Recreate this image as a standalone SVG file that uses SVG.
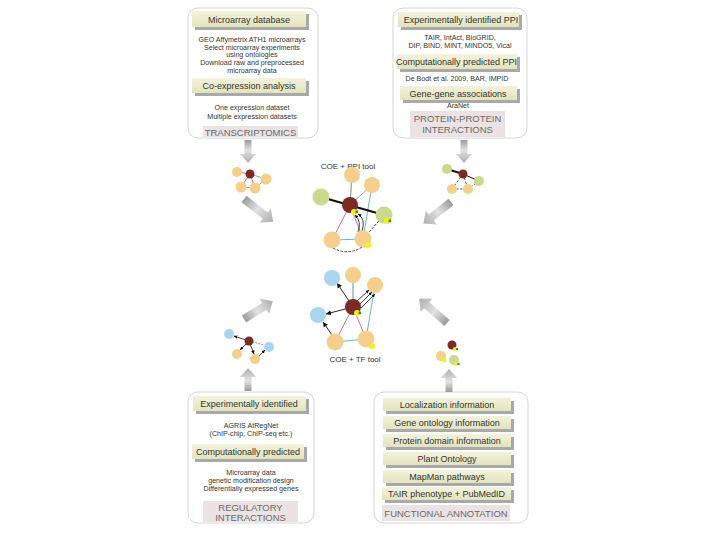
<svg xmlns="http://www.w3.org/2000/svg" width="720" height="540" viewBox="0 0 720 540">
<style>
.panel{fill:#fff;stroke:#d6d6d6;stroke-width:1}
.hb{fill:url(#hg)}
.hs{fill:#a9a9a9}
.ht{font-family:"Liberation Sans",Arial,sans-serif;font-size:9px;fill:#333;text-anchor:middle}
.bt{font-family:"Liberation Sans",Arial,sans-serif;font-size:7.1px;fill:#333;text-anchor:middle}
.ban{fill:#ebe3e3}
.bant{font-family:"Liberation Sans",Arial,sans-serif;font-size:9.5px;fill:#6a6a6a;text-anchor:middle}
.tt{font-family:"Liberation Sans",Arial,sans-serif;font-size:8px;fill:#333;text-anchor:middle}
.or{fill:#f6cf8c}
.mr{fill:#7b2a24}
.gr{fill:#c9d98e}
.bl{fill:#a9d6ee}
.ye{fill:#f2f01e}
.gs{fill:#3a8a2a}
.arr{fill:url(#ag)}
.k{stroke:#111;fill:none}
.pk{stroke:#c0527e;fill:none}
.bu{stroke:#3fa2c4;fill:none}
.gy{stroke:#8f9faa;fill:none}
.dk{stroke:#111;fill:none;stroke-dasharray:2.5 1.5}
</style>
<defs>
<linearGradient id="hg" x1="0" y1="0" x2="0" y2="1">
<stop offset="0" stop-color="#f3f3de"/>
<stop offset="1" stop-color="#e3e3bd"/>
</linearGradient>
<linearGradient id="ag" x1="0" y1="0" x2="1" y2="0">
<stop offset="0" stop-color="#9a9a9a"/>
<stop offset="0.45" stop-color="#e2e2e2"/>
<stop offset="1" stop-color="#aeaeae"/>
</linearGradient>
<marker id="ah" markerWidth="6" markerHeight="6" refX="5" refY="3" orient="auto" markerUnits="userSpaceOnUse">
<path d="M0,0.5 L5,3 L0,5.5 Z" fill="#111"/>
</marker>
<marker id="ahs" markerWidth="4" markerHeight="4" refX="3.5" refY="2" orient="auto" markerUnits="userSpaceOnUse">
<path d="M0,0.3 L3.5,2 L0,3.7 Z" fill="#111"/>
</marker>
</defs>

<!-- TRANSCRIPTOMICS panel -->
<g id="transcriptomics">
<rect class="panel" x="188" y="8" width="130" height="130" rx="10"/>
<rect class="hs" x="195" y="14" width="114" height="16"/>
<rect class="hb" x="192" y="11" width="114" height="16"/>
<text class="ht" x="249" y="22.5">Microarray database</text>
<text class="bt" x="252" y="41.5">GEO Affymetrix ATH1 microarrays</text>
<text class="bt" x="252" y="49.5">Select microarray experiments</text>
<text class="bt" x="252" y="57">using ontologies</text>
<text class="bt" x="252" y="65">Download raw and preprocessed</text>
<text class="bt" x="252" y="72.5">microarray data</text>
<rect class="hs" x="195" y="81" width="114" height="15"/>
<rect class="hb" x="192" y="78" width="114" height="15"/>
<text class="ht" x="249" y="89">Co-expression analysis</text>
<text class="bt" x="252" y="110">One expression dataset</text>
<text class="bt" x="252" y="119">Multiple expression datasets</text>
<rect class="ban" x="203" y="126" width="95" height="11"/>
<text class="bant" x="250.5" y="135.5">TRANSCRIPTOMICS</text>
</g>

<!-- PPI panel -->
<g id="ppi">
<rect class="panel" x="393" y="8" width="134" height="130" rx="10"/>
<rect class="hs" x="401" y="15" width="121" height="15"/>
<rect class="hb" x="398" y="12" width="121" height="15"/>
<text class="ht" x="461" y="23">Experimentally identified PPI</text>
<text class="bt" x="460" y="39.5">TAIR, IntAct, BioGRID,</text>
<text class="bt" x="460" y="48">DIP, BIND, MINT, MINDO5, Vical</text>
<rect class="hs" x="400" y="57" width="120" height="15"/>
<rect class="hb" x="397" y="54" width="120" height="15"/>
<text class="ht" x="456.5" y="65" font-size="8.7">Computationally predicted PPI</text>
<text class="bt" x="457" y="80.5">De Bodt et al. 2009, BAR, IMPID</text>
<rect class="hs" x="403" y="89" width="117" height="14"/>
<rect class="hb" x="400" y="86" width="117" height="14"/>
<text class="ht" x="458" y="96.5">Gene-gene associations</text>
<text class="bt" x="458" y="108">AraNet</text>
<rect class="ban" x="410" y="111" width="95" height="26"/>
<text class="bant" x="457.5" y="121.5">PROTEIN-PROTEIN</text>
<text class="bant" x="457.5" y="133">INTERACTIONS</text>
</g>

<!-- Regulatory panel -->
<g id="regulatory">
<rect class="panel" x="188" y="392" width="126" height="131" rx="10"/>
<rect class="hs" x="196" y="399" width="113" height="15"/>
<rect class="hb" x="193" y="396" width="113" height="15"/>
<text class="ht" x="249" y="407">Experimentally identified</text>
<text class="bt" x="251" y="428">AGRIS AtRegNet</text>
<text class="bt" x="251" y="436">(ChIP-chip, ChIP-seq etc.)</text>
<rect class="hs" x="195" y="447" width="112" height="15"/>
<rect class="hb" x="192" y="444" width="112" height="15"/>
<text class="ht" x="248" y="455">Computationally predicted</text>
<text class="bt" x="251" y="475">Microarray data</text>
<text class="bt" x="251" y="482.5">genetic modification design</text>
<text class="bt" x="251" y="490.5">Differentially expressed genes</text>
<rect class="ban" x="203" y="501" width="95" height="21"/>
<text class="bant" x="250.5" y="510.5">REGULATORY</text>
<text class="bant" x="250.5" y="520.5">INTERACTIONS</text>
</g>

<!-- Functional annotation panel -->
<g id="functional">
<rect class="panel" x="374" y="392" width="154" height="131" rx="10"/>
<rect class="hs" x="386" y="401" width="128" height="13"/>
<rect class="hb" x="383" y="398" width="128" height="13"/>
<text class="ht" x="447" y="407.5">Localization information</text>
<rect class="hs" x="386" y="419" width="128" height="13"/>
<rect class="hb" x="383" y="416" width="128" height="13"/>
<text class="ht" x="447" y="425.5">Gene ontology information</text>
<rect class="hs" x="386" y="437" width="128" height="13"/>
<rect class="hb" x="383" y="434" width="128" height="13"/>
<text class="ht" x="447" y="443.5">Protein domain information</text>
<rect class="hs" x="386" y="455" width="128" height="13"/>
<rect class="hb" x="383" y="452" width="128" height="13"/>
<text class="ht" x="447" y="461.5">Plant Ontology</text>
<rect class="hs" x="386" y="473" width="128" height="13"/>
<rect class="hb" x="383" y="470" width="128" height="13"/>
<text class="ht" x="447" y="479.5">MapMan pathways</text>
<rect class="hs" x="385" y="490" width="129" height="13"/>
<rect class="hb" x="382" y="487" width="129" height="13"/>
<text class="ht" x="446.5" y="496.5">TAIR phenotype + PubMedID</text>
<rect class="ban" x="382" y="505" width="128" height="16"/>
<text class="bant" x="446" y="517">FUNCTIONAL ANNOTATION</text>
</g>

<!-- Big grey arrows -->
<g id="connectors">
<path class="arr" transform="translate(248,140) rotate(90)" d="M0,-3.5 L14,-3.5 L14,-8 L23,0 L14,8 L14,3.5 L0,3.5 Z"/>
<path class="arr" transform="translate(464,140) rotate(90)" d="M0,-3.5 L14,-3.5 L14,-8 L23,0 L14,8 L14,3.5 L0,3.5 Z"/>
<path class="arr" transform="translate(248,391) rotate(-90)" d="M0,-3.5 L14,-3.5 L14,-8 L23,0 L14,8 L14,3.5 L0,3.5 Z"/>
<path class="arr" transform="translate(449,392) rotate(-90)" d="M0,-3.5 L14,-3.5 L14,-8 L23,0 L14,8 L14,3.5 L0,3.5 Z"/>
<path class="arr" transform="translate(244,199) rotate(38)" d="M0,-4 L27,-4 L27,-9 L37,0 L27,9 L27,4 L0,4 Z"/>
<path class="arr" transform="translate(451,202) rotate(142)" d="M0,-4 L25,-4 L25,-9 L35,0 L25,9 L25,4 L0,4 Z"/>
<path class="arr" transform="translate(244,319) rotate(-32)" d="M0,-4 L24,-4 L24,-9 L34,0 L24,9 L24,4 L0,4 Z"/>
<path class="arr" transform="translate(447,323) rotate(-139)" d="M0,-4 L27,-4 L27,-9 L37,0 L27,9 L27,4 L0,4 Z"/>
</g>

<!-- small COE network -->
<g id="net-coe">
<g stroke-width="0.8">
<line class="pk" x1="250" y1="174" x2="237" y2="172"/>
<line class="pk" x1="250" y1="174" x2="241" y2="187"/>
<line class="pk" x1="250" y1="174" x2="255" y2="188"/>
<line class="bu" x1="250" y1="174" x2="266" y2="179"/>
<line class="bu" x1="266" y1="179" x2="255" y2="188"/>
<line class="bu" x1="241" y1="187" x2="255" y2="188"/>
</g>
<circle class="or" cx="237" cy="172" r="5"/>
<circle class="or" cx="266" cy="179" r="5.5"/>
<circle class="or" cx="241" cy="187" r="5.5"/>
<circle class="or" cx="255" cy="188" r="5.5"/>
<circle class="mr" cx="250" cy="174" r="4.5"/>
</g>

<!-- small PPI network -->
<g id="net-ppi">
<line class="k" x1="447" y1="169" x2="463" y2="174" stroke-width="2.2"/>
<line class="k" x1="463" y1="174" x2="479" y2="181" stroke-width="1"/>
<line class="dk" x1="463" y1="174" x2="452" y2="189" stroke-width="0.7"/>
<line class="dk" x1="463" y1="174" x2="468" y2="189" stroke-width="0.7"/>
<line class="dk" x1="452" y1="189" x2="468" y2="189" stroke-width="0.7"/>
<line class="dk" x1="479" y1="181" x2="468" y2="189" stroke-width="0.7"/>
<circle class="gr" cx="447" cy="169" r="5"/>
<circle class="gr" cx="479" cy="181" r="5"/>
<circle class="or" cx="452" cy="189" r="5"/>
<circle class="or" cx="468" cy="189" r="5"/>
<circle class="mr" cx="463" cy="174" r="4.5"/>
</g>

<!-- small TF network -->
<g id="net-tf">
<g stroke-width="0.8">
<line class="k" x1="249" y1="341" x2="234" y2="336" marker-end="url(#ahs)"/>
<line class="k" x1="249" y1="341" x2="240" y2="350" marker-end="url(#ahs)"/>
<line class="k" x1="249" y1="341" x2="254" y2="354" marker-end="url(#ahs)"/>
<line class="pk" x1="249" y1="341" x2="264" y2="345" stroke-dasharray="2 1.2"/>
<line class="k" x1="259" y1="356" x2="265" y2="350" marker-end="url(#ahs)"/>
</g>
<circle class="bl" cx="229" cy="334" r="5"/>
<circle class="bl" cx="269" cy="347" r="5"/>
<circle class="or" cx="237" cy="354" r="5"/>
<circle class="or" cx="255" cy="359" r="5"/>
<circle class="mr" cx="249" cy="341" r="4.5"/>
</g>

<!-- small functional network -->
<g id="net-fa">
<circle class="mr" cx="452" cy="345" r="4.5"/>
<circle class="ye" cx="455" cy="349" r="2"/>
<rect class="gs" x="456" y="348" width="2" height="2"/>
<circle class="or" cx="441" cy="356" r="5"/>
<circle class="ye" cx="444" cy="360" r="2.2"/>
<circle class="gr" cx="454" cy="360" r="5"/>
<circle class="ye" cx="456" cy="364" r="2"/>
<rect class="gs" x="457.5" y="363" width="2" height="2"/>
</g>

<!-- COE + PPI tool network -->
<g id="net-coe-ppi">
<text class="tt" x="348" y="169">COE + PPI tool</text>
<line class="gy" x1="350" y1="205" x2="352" y2="175" stroke-width="1.2"/>
<line class="bu" x1="350" y1="205" x2="372" y2="185" stroke-width="0.8"/>
<line class="bu" x1="372" y1="185" x2="363" y2="239" stroke-width="0.8"/>
<line class="pk" x1="350" y1="205" x2="332" y2="240" stroke-width="0.8"/>
<line class="pk" x1="350" y1="205" x2="363" y2="239" stroke-width="0.8"/>
<line class="bu" x1="332" y1="240" x2="363" y2="239" stroke-width="0.8"/>
<path class="dk" d="M333,248 Q348,256 362,247" stroke-width="0.8"/>
<line class="dk" x1="384" y1="215" x2="363" y2="239" stroke-width="0.8"/>
<line class="k" x1="321" y1="197" x2="384" y2="215" stroke-width="2.3"/>
<path class="k" d="M362,231 Q366,219 358,214" stroke-width="0.8" marker-end="url(#ahs)"/>
<path class="k" d="M358,232 Q362,222 355,215" stroke-width="0.8" marker-end="url(#ahs)"/>
<circle class="or" cx="352" cy="175" r="8"/>
<circle class="or" cx="372" cy="185" r="8"/>
<circle class="gr" cx="321" cy="197" r="8.5"/>
<circle class="gr" cx="384" cy="215" r="8.5"/>
<circle class="or" cx="332" cy="240" r="8.5"/>
<circle class="or" cx="363" cy="239" r="8.5"/>
<circle class="mr" cx="350" cy="205" r="8"/>
<circle class="ye" cx="354" cy="212" r="3"/>
<rect class="gs" x="355.5" y="210.5" width="2.6" height="2.6"/>
<circle class="ye" cx="387" cy="221" r="3"/>
<rect class="gs" x="388.5" y="219.5" width="2.6" height="2.6"/>
<circle class="ye" cx="368" cy="245" r="3"/>
</g>

<!-- COE + TF tool network -->
<g id="net-coe-tf">
<line class="gy" x1="353" y1="307" x2="353" y2="275" stroke-width="1.2"/>
<line class="bu" x1="375" y1="285" x2="366" y2="339" stroke-width="0.8"/>
<line class="pk" x1="353" y1="307" x2="335" y2="342" stroke-width="0.8"/>
<line class="pk" x1="353" y1="307" x2="366" y2="339" stroke-width="0.8"/>
<line class="bu" x1="335" y1="342" x2="366" y2="339" stroke-width="0.8"/>
<line class="k" x1="353" y1="307" x2="337" y2="283" stroke-width="0.9" marker-end="url(#ah)"/>
<line class="k" x1="353" y1="307" x2="326" y2="314" stroke-width="0.9" marker-end="url(#ah)"/>
<line class="k" x1="332" y1="335" x2="323" y2="322" stroke-width="0.9" marker-end="url(#ah)"/>
<line class="k" x1="356" y1="302" x2="369" y2="290" stroke-width="0.8" marker-end="url(#ahs)"/>
<line class="k" x1="359" y1="305" x2="372" y2="292" stroke-width="0.8" marker-end="url(#ahs)"/>
<line class="k" x1="361" y1="308" x2="375" y2="294" stroke-width="0.8" marker-end="url(#ahs)"/>
<circle class="bl" cx="332" cy="278" r="8"/>
<circle class="or" cx="353" cy="275" r="8"/>
<circle class="or" cx="375" cy="285" r="8"/>
<circle class="bl" cx="318" cy="315" r="8"/>
<circle class="or" cx="335" cy="342" r="8.5"/>
<circle class="or" cx="366" cy="339" r="8.5"/>
<circle class="mr" cx="353" cy="307" r="8"/>
<circle class="ye" cx="357" cy="313" r="3"/>
<rect class="gs" x="358.5" y="311.5" width="2.6" height="2.6"/>
<circle class="ye" cx="372" cy="346" r="3"/>
<text class="tt" x="355" y="362">COE + TF tool</text>
</g>
</svg>
